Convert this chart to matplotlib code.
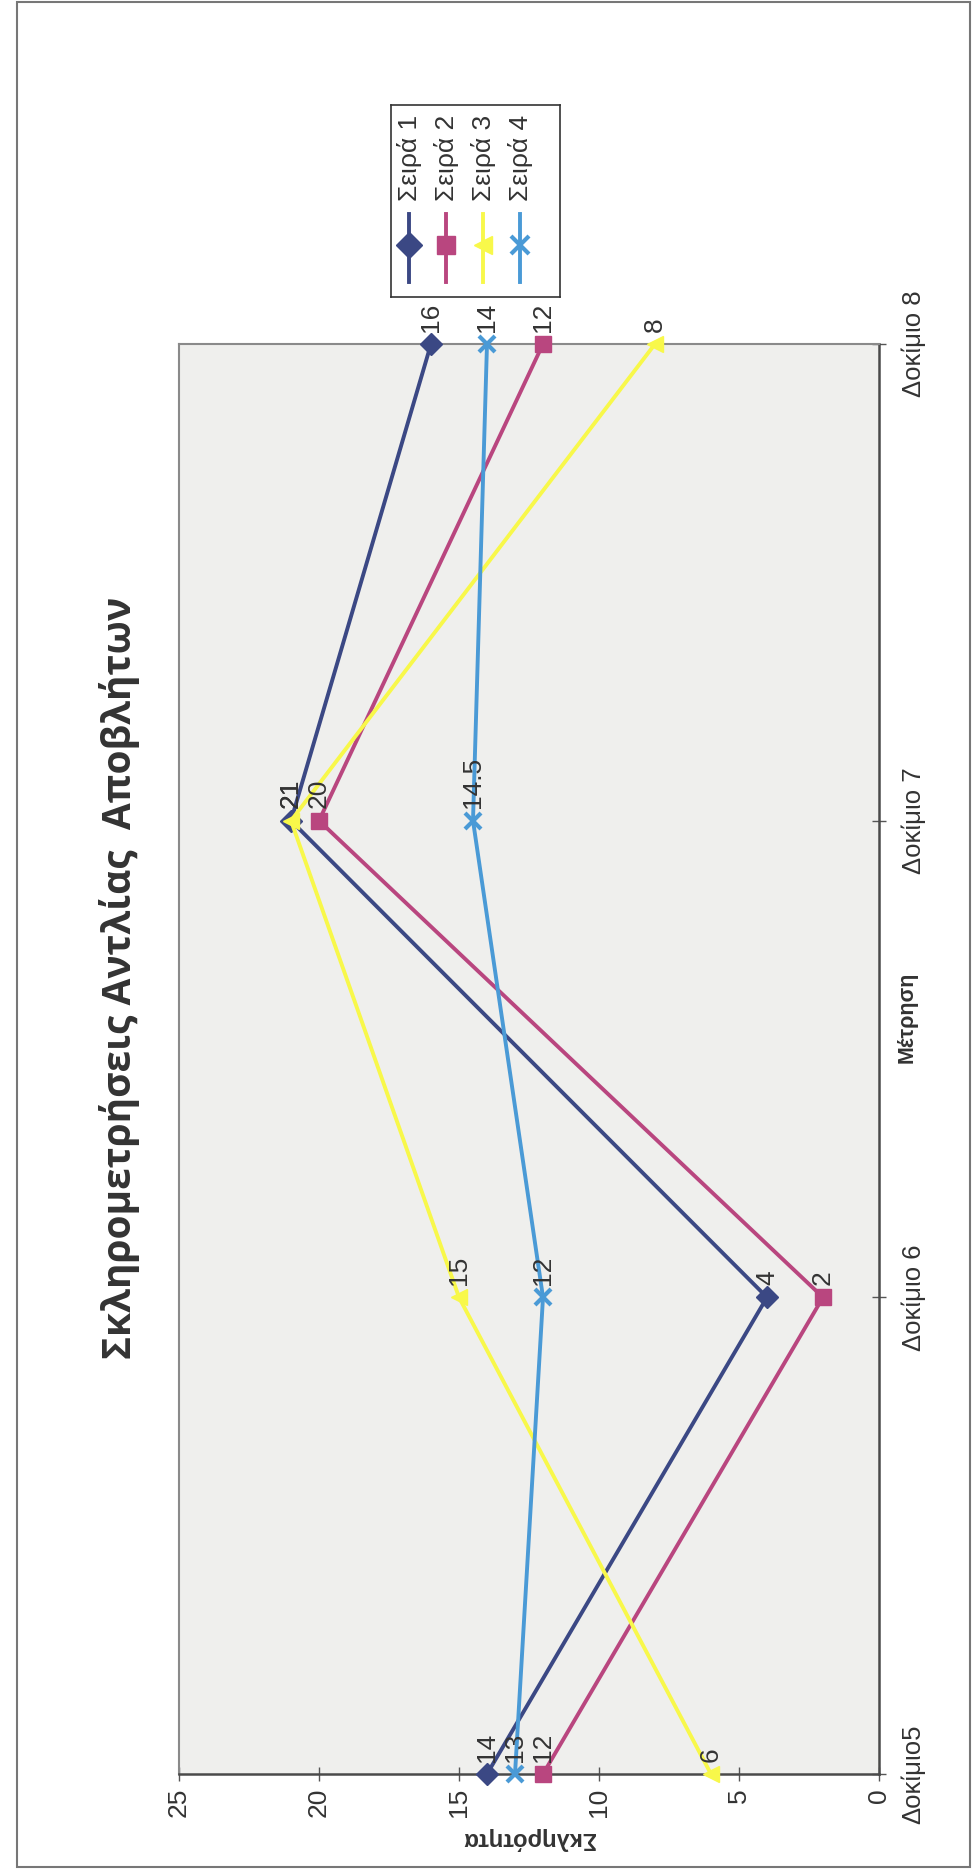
import matplotlib.pyplot as plt
from matplotlib.patches import Rectangle

# chart data (the original chart is printed rotated 90 degrees)
categories = ["Δοκίμιο5", "Δοκίμιο 6", "Δοκίμιο 7", "Δοκίμιο 8"]
series_names = ["Σειρά 1", "Σειρά 2", "Σειρά 3", "Σειρά 4"]
seira1 = [14, 4, 21, 16]
seira2 = [12, 2, 20, 12]
seira3 = [6, 15, 21, 8]
seira4 = [13, 12, 14.5, 14]
value_ticks = [0, 5, 10, 15, 20, 25]

title = "Σκληρομετρήσεις Αντλίας  Αποβλήτων"
x_title = "Μέτρηση"
y_title = "Σκληρότητα"

colors = ["#3b4884", "#b9467f", "#f8f84a", "#4a9ad6"]
markers = ["D", "s", "<", "x"]

plt.rcParams['font.family'] = ['Liberation Sans', 'DejaVu Sans']

W, H = 975, 1876
fig = plt.figure(figsize=(W / 100, H / 100), dpi=100)
fig.patch.set_facecolor("white")

ax = fig.add_axes([179 / W, 1 - 1774 / H, (879 - 179) / W, (1774 - 344) / H])
ax.set_facecolor("#efefed")
ax.set_xlim(25, 0)
ax.set_ylim(0, len(categories) - 1)

pos = list(range(len(categories)))
all_series = [seira1, seira2, seira3, seira4]
for vals, c, m in zip(all_series, colors, markers):
    ax.plot(vals, pos, color=c, lw=2.8, marker=m, ms=11, mew=3 if m == "x" else 1,
            mec=c, mfc=c, clip_on=False, zorder=3)
    for v, p in zip(vals, pos):
        ax.annotate(f"{v:g}", (v, p), xytext=(0, 9), textcoords="offset points",
                    rotation=90, ha="center", va="bottom", fontsize=19,
                    color="#333333", annotation_clip=False, zorder=4)

ax.set_xticks(value_ticks)
ax.set_xticklabels([str(v) for v in value_ticks], rotation=90, fontsize=19, color="#333333")
ax.set_yticks(pos)
ax.set_yticklabels(categories, rotation=90, va="center", fontsize=18.5, color="#333333")
ax.yaxis.tick_right()
ax.tick_params(axis="both", direction="inout", length=10, width=1, color="#555555")
ax.tick_params(axis="y", pad=11)
ax.tick_params(axis="x", pad=5)

for side in ["bottom", "right"]:
    ax.spines[side].set_color("#4a4a4a")
    ax.spines[side].set_linewidth(1.8)
for side in ["top", "left"]:
    ax.spines[side].set_color("#8a8a8a")
    ax.spines[side].set_linewidth(1.5)

fig.text(120 / W, 1 - 978 / H, title, rotation=90, fontsize=28, fontweight="bold",
         family=["Open Sans", "DejaVu Sans"], color="#333333", ha="center", va="center")
fig.text(907 / W, 1 - 1017 / H, x_title, rotation=90, fontsize=15.5, fontweight="bold",
         color="#333333", ha="center", va="center")
fig.text(529 / W, 1 - 1838 / H, y_title, rotation=180, fontsize=17, fontweight="bold",
         color="#333333", ha="center", va="center")

# legend, drawn rotated like the rest of the chart
lax = fig.add_axes([391 / W, 1 - 297 / H, 169 / W, 192 / H])
lax.set_xlim(-0.49, 4.08)
lax.set_ylim(0, 1)
lax.set_xticks([])
lax.set_yticks([])
lax.set_facecolor("white")
for s in lax.spines.values():
    s.set_color("#333333")
    s.set_linewidth(1.2)
for i, (name, c, m) in enumerate(zip(series_names, colors, markers)):
    lax.plot([i, i], [0.08, 0.43], color=c, lw=2.8)
    lax.plot([i], [0.27], color=c, marker=m, ms=13, mew=3 if m == "x" else 1, mec=c, mfc=c)
    lax.text(i, 0.5, name, rotation=90, ha="center", va="bottom", fontsize=19, color="#333333")

fig.add_artist(Rectangle((17 / W, 1 - 1867 / H), (970 - 17) / W, (1867 - 2) / H,
                         transform=fig.transFigure, fill=False, ec="#777777", lw=1.5))

fig.savefig("out.png", dpi=100)
